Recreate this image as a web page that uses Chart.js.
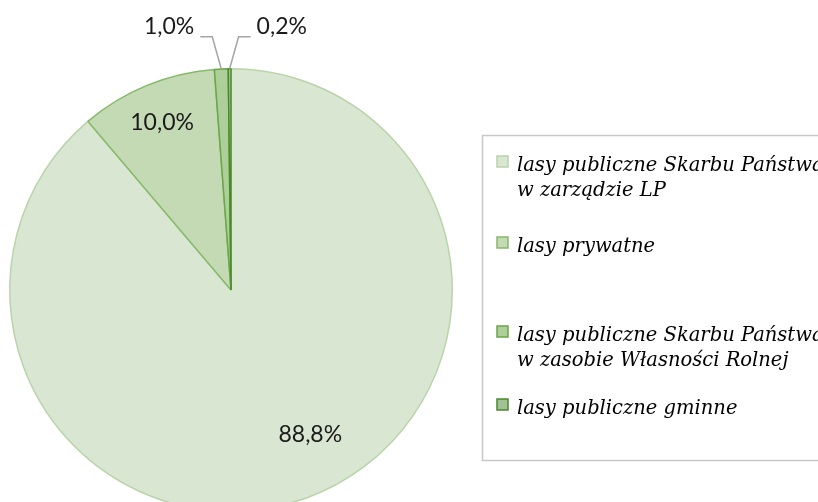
<!DOCTYPE html>
<html lang="pl">
<head>
<meta charset="utf-8">
<title>Struktura własności lasów</title>
<script src="https://cdn.jsdelivr.net/npm/chart.js@4.4.1/dist/chart.umd.min.js"></script>
<style>
  html, body { margin: 0; padding: 0; background: #fff; overflow: hidden; }
  #wykres { position: relative; width: 818px; height: 502px; overflow: hidden; }
</style>
</head>
<body>
<div id="wykres"><canvas id="strukturaLasow" width="818" height="530"></canvas></div>
<script>
// dane wykresu
const kategorie = [
    ['lasy publiczne Skarbu Państwa', 'w zarządzie LP'],
    ['lasy prywatne'],
    ['lasy publiczne Skarbu Państwa', 'w zasobie Własności Rolnej'],
    ['lasy publiczne gminne']
];
const udzialy = [88.8, 10.0, 1.0, 0.2];   // % powierzchni

const kolory = ['#d9e6d1', '#c4dab5', '#afcf9a', '#a3c196'];
const obramowania = ['#b9d4aa', '#86b969', '#6aa64a', '#4a8a2c'];

// rozmieszczenie etykiet procentowych
const polozenieEtykiet = [
    { typ: 'wewn', r: 0.745, korekta: -8.6 },
    { typ: 'wewn', r: 0.82, korekta: 0 },
    { typ: 'zewn', kier: -1 },
    { typ: 'zewn', kier: 1 }
];

// linie bazowe pozycji legendy
const legendaY = [171, 252, 341, 414];

const FONT_ETYKIET = '23px Lato';
const FONT_LEGENDY = 'italic 19.5px "DejaVu Serif"';

function formatuj(v) {
    return v.toFixed(1).replace('.', ',') + '%';
}

const etykietyProcent = {
    id: 'etykietyProcent',
    afterDatasetsDraw(chart) {
        const ctx = chart.ctx;
        const meta = chart.getDatasetMeta(0);
        ctx.save();
        ctx.font = FONT_ETYKIET;
        ctx.fillStyle = '#1a1a1a';
        ctx.textBaseline = 'middle';
        meta.data.forEach((arc, i) => {
            const { x, y, startAngle, endAngle, outerRadius } =
                arc.getProps(['x', 'y', 'startAngle', 'endAngle', 'outerRadius'], true);
            const mid = (startAngle + endAngle) / 2;
            const tekst = formatuj(udzialy[i]);
            const p = polozenieEtykiet[i];
            if (p.typ === 'wewn') {
                const a = mid + p.korekta * Math.PI / 180;
                const r = outerRadius * p.r;
                ctx.textAlign = 'center';
                ctx.fillText(tekst, x + Math.cos(a) * r, y + Math.sin(a) * r);
            } else {
                // linia odniesienia: od krawędzi wycinka w górę i w bok
                const sx = x + Math.cos(mid) * outerRadius;
                const sy = y + Math.sin(mid) * outerRadius;
                const ex = sx + p.kier * 9;
                const ey = y - outerRadius - 32;
                const hx = ex + p.kier * 12;
                ctx.strokeStyle = '#a5a5a5';
                ctx.lineWidth = 1.5;
                ctx.beginPath();
                ctx.moveTo(sx, sy);
                ctx.lineTo(ex, ey);
                ctx.lineTo(hx, ey);
                ctx.stroke();
                ctx.textAlign = p.kier < 0 ? 'right' : 'left';
                ctx.fillText(tekst, hx + p.kier * 6, ey - 10);
            }
        });
        ctx.restore();
    }
};

const legendaRamka = {
    id: 'legendaRamka',
    afterDraw(chart) {
        const ctx = chart.ctx;
        ctx.save();
        ctx.strokeStyle = '#c8c8c8';
        ctx.lineWidth = 1.5;
        ctx.strokeRect(482.5, 135.5, 420, 325);
        ctx.font = FONT_LEGENDY;
        ctx.textBaseline = 'alphabetic';
        ctx.textAlign = 'left';
        kategorie.forEach((linie, i) => {
            const by = legendaY[i];
            ctx.fillStyle = kolory[i];
            ctx.fillRect(497, by - 15, 11, 11);
            ctx.strokeStyle = obramowania[i];
            ctx.lineWidth = 1.5;
            ctx.strokeRect(497, by - 15, 11, 11);
            ctx.fillStyle = '#000';
            linie.forEach((l, j) => ctx.fillText(l, 517, by + j * 25));
        });
        ctx.restore();
    }
};

function rysuj() {
    new Chart(document.getElementById('strukturaLasow').getContext('2d'), {
        type: 'pie',
        data: {
            labels: kategorie,
            datasets: [{
                data: udzialy,
                backgroundColor: kolory,
                borderColor: obramowania,
                borderWidth: 1.5
            }]
        },
        options: {
            responsive: false,
            animation: false,
            layout: { padding: { top: 68, left: 9, right: 365, bottom: 18 } },
            plugins: {
                legend: { display: false },
                tooltip: { enabled: false }
            }
        },
        plugins: [etykietyProcent, legendaRamka]
    });
}

// czcionki muszą być gotowe zanim canvas zacznie rysować tekst
Promise.all([
    document.fonts.load(FONT_ETYKIET),
    document.fonts.load(FONT_LEGENDY)
]).then(rysuj, rysuj);
</script>
</body>
</html>
